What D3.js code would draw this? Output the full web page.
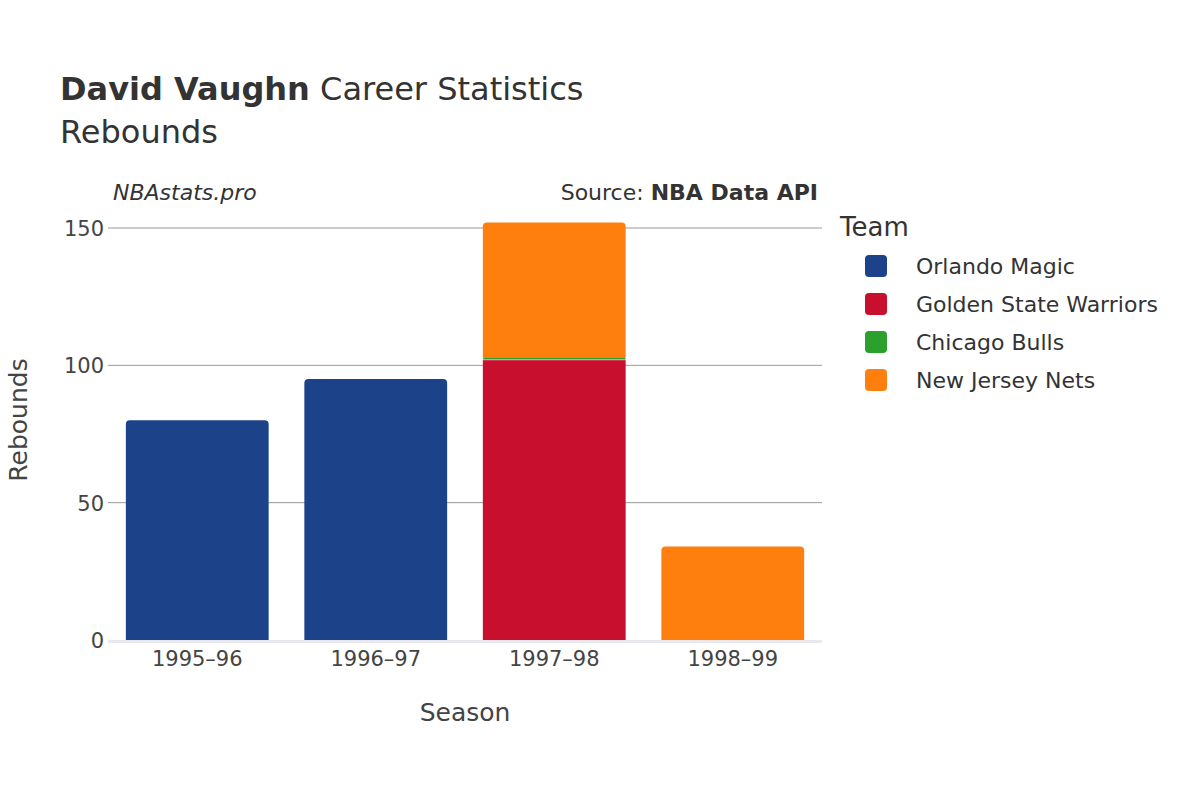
<!DOCTYPE html>
<html><head><meta charset="utf-8">
<script src="https://d3js.org/d3.v7.min.js"></script>
<style>body{margin:0;background:#fff}text{font-family:"DejaVu Sans",sans-serif}</style>
</head><body><svg id="c" width="1200" height="800"></svg>
<script>
const seasons = ["1995–96","1996–97","1997–98","1998–99"];
const teams = ["Orlando Magic","Golden State Warriors","Chicago Bulls","New Jersey Nets"];
const colors = ["#1c4389","#c8102e","#2ca02c","#ff7f0e"];
const orlando = [80,95,0,0];
const warriors = [0,0,102,0];
const bulls = [0,0,1,0];
const nets = [0,0,49,34];
const yTicks = [0,50,100,150];

const series = [orlando,warriors,bulls,nets];
const svg = d3.select("#c");
const L=108,R=822,T=205,B=640;
const x = d3.scaleBand().domain(seasons).range([L,R]).paddingInner(0.2).paddingOuter(0.1);
const y = d3.scaleLinear().domain([0,150]).range([B,228]);

svg.append("g").selectAll("line").data(yTicks.filter(d=>d>0)).join("line")
 .attr("x1",L).attr("x2",R).attr("y1",d=>y(d)).attr("y2",d=>y(d)).attr("stroke","#999").attr("stroke-width",1);
svg.append("line").attr("x1",L).attr("x2",R).attr("y1",B+1.5).attr("y2",B+1.5).attr("stroke","#e8e8ee").attr("stroke-width",3);

const stackData = seasons.map((s,i)=>{const o={s}; teams.forEach((t,j)=>o[t]=series[j][i]); return o;});
const stacked = d3.stack().keys(teams)(stackData);
stacked.forEach((layer,j)=>{
  svg.append("g").selectAll("path").data(layer.filter(d=>d[1]-d[0]>0)).join("path")
   .attr("fill",colors[j]).attr("stroke","#fff").attr("stroke-width",j==2?0.5:0)
   .attr("d",d=>{
     const x0=x(d.data.s), w=x.bandwidth(), y0=y(d[0]), y1=y(d[1]);
     const top = (j==teams.length-1 || stacked.slice(j+1).every(l=>{const e=l.find(v=>v.data.s===d.data.s);return e[1]-e[0]<=0;}));
     const r = top?Math.min(4,(y0-y1)/2):0;
     return `M${x0},${y0}V${y1+r}Q${x0},${y1} ${x0+r},${y1}H${x0+w-r}Q${x0+w},${y1} ${x0+w},${y1+r}V${y0}Z`;
   });
});

svg.append("g").selectAll("text").data(yTicks).join("text")
 .attr("x",L-4).attr("y",d=>y(d)+8).attr("text-anchor","end").attr("font-size",21).attr("fill","#444").text(d=>d);
svg.append("g").selectAll("text").data(seasons).join("text")
 .attr("x",d=>x(d)+x.bandwidth()/2).attr("y",666).attr("text-anchor","middle").attr("font-size",21).attr("fill","#444").text(d=>d);

svg.append("text").attr("x",465).attr("y",721).attr("text-anchor","middle").attr("font-size",25).attr("fill","#444").text("Season");
svg.append("text").attr("transform","translate(27,420) rotate(-90)").attr("text-anchor","middle").attr("font-size",25).attr("fill","#444").text("Rebounds");

const t=svg.append("text").attr("x",60).attr("y",100).attr("font-size",32).attr("fill","#333");
t.append("tspan").attr("font-weight","bold").text("David Vaughn");
t.append("tspan").text(" Career Statistics");
svg.append("text").attr("x",60).attr("y",143).attr("font-size",32).attr("fill","#333").text("Rebounds");
svg.append("text").attr("x",113).attr("y",200).attr("font-size",22).attr("font-style","italic").attr("fill","#333").text("NBAstats.pro");
const s=svg.append("text").attr("x",818).attr("y",200).attr("text-anchor","end").attr("font-size",22).attr("fill","#333");
s.append("tspan").text("Source: ");
s.append("tspan").attr("font-weight","bold").text("NBA Data API");

svg.append("text").attr("x",840).attr("y",236).attr("font-size",26).attr("fill","#333").text("Team");
const lg=svg.append("g").selectAll("g").data(teams).join("g").attr("transform",(d,i)=>`translate(865,${266+i*38})`);
lg.append("rect").attr("x",0).attr("y",-11).attr("width",22).attr("height",22).attr("rx",4).attr("fill",(d,i)=>colors[i]);
lg.append("text").attr("x",51).attr("y",8).attr("font-size",22).attr("fill","#333").text(d=>d);
</script></body></html>
